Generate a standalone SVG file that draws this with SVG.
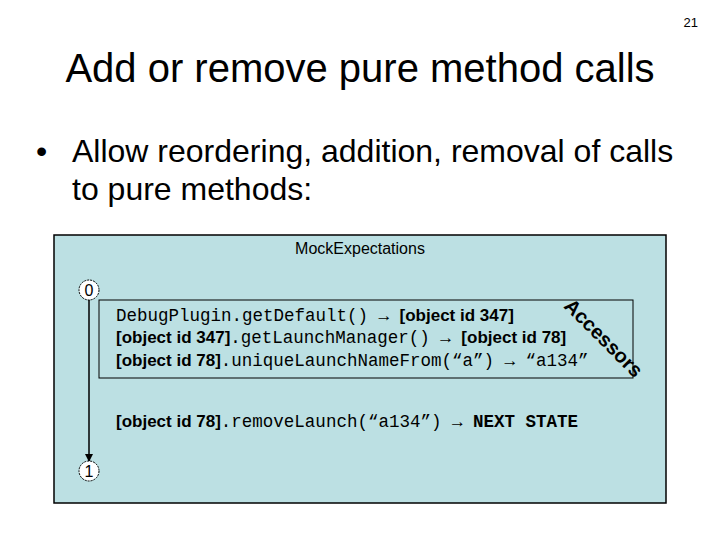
<svg xmlns="http://www.w3.org/2000/svg" width="720" height="540" viewBox="0 0 720 540">
<defs>
<style>
.s{font-family:"Liberation Sans",Arial,sans-serif}
.b{font-family:"Liberation Sans",Arial,sans-serif;font-weight:bold;font-size:17px}
.m{font-family:"Liberation Mono","Courier New",monospace;font-size:17.5px}
.st{fill:#fff;stroke:#000;stroke-width:1}
</style>
<marker id="ah" markerWidth="8" markerHeight="8" refX="7" refY="4" orient="auto" markerUnits="userSpaceOnUse"><path d="M0,0 L8,4 L0,8 z" fill="#000"/></marker>
</defs>
<rect width="720" height="540" fill="#fff"/>
<text x="698" y="27" class="s" font-size="13" text-anchor="end">21</text>
<text x="360" y="82" class="s" font-size="40" text-anchor="middle">Add or remove pure method calls</text>
<text x="36" y="162" class="s" font-size="32">•</text>
<text x="72" y="162" class="s" font-size="32">Allow reordering, addition, removal of calls</text>
<text x="72" y="200" class="s" font-size="32">to pure methods:</text>
<g id="mock">
<rect x="54" y="235" width="612" height="268" fill="#bce0e3" stroke="#000" stroke-width="1.5"/>
<text x="360" y="254" class="s" font-size="16" text-anchor="middle">MockExpectations</text>
</g>
<g id="accessors">
<rect x="99" y="300" width="534" height="78" fill="none" stroke="#000" stroke-width="1"/>
<text x="116" y="321"><tspan class="m">DebugPlugin.getDefault() → </tspan><tspan class="b">[object id 347]</tspan></text>
<text x="116" y="343"><tspan class="b">[object id 347]</tspan><tspan class="m">.getLaunchManager() → </tspan><tspan class="b">[object id 78]</tspan></text>
<text x="116" y="366"><tspan class="b">[object id 78]</tspan><tspan class="m">.uniqueLaunchNameFrom(“a”) → “a134”</tspan></text>
<text transform="translate(563,307) rotate(45)" class="s" font-weight="bold" font-size="20">Accessors</text>
</g>
<g id="remove">
<text x="116" y="427"><tspan class="b">[object id 78]</tspan><tspan class="m">.removeLaunch(“a134”) → </tspan><tspan class="m" font-weight="bold">NEXT STATE</tspan></text>
</g>
<g id="connectors">
<line x1="89" y1="300" x2="89" y2="461" stroke="#000" stroke-width="1.5" marker-end="url(#ah)"/>
</g>
<g id="n0">
<circle cx="89" cy="290" r="10" class="st" stroke-dasharray="2,1"/>
<text x="89" y="296" class="s" font-size="16" text-anchor="middle">0</text>
</g>
<g id="n1">
<circle cx="89" cy="471" r="10" class="st" stroke-dasharray="2,1"/>
<text x="89" y="477" class="s" font-size="16" text-anchor="middle">1</text>
</g>
</svg>
